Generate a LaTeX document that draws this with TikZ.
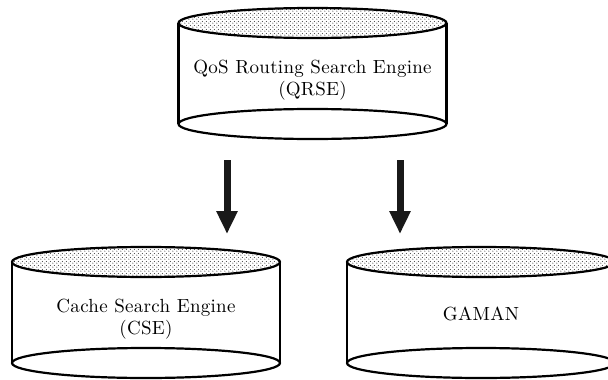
\documentclass[tikz,border=0pt]{standalone}
\usepackage{fontspec}
\newfontfamily\labelfont{lmroman10-regular.otf}[LetterSpace=1.5]
\usetikzlibrary{patterns,arrows.meta}
\pgfdeclarepatternformonly{finedots}{\pgfpointorigin}{\pgfpoint{4pt}{4pt}}{\pgfpoint{4pt}{4pt}}{%
  \pgfpathcircle{\pgfpoint{1pt}{1pt}}{0.65pt}
  \pgfpathcircle{\pgfpoint{3pt}{3pt}}{0.65pt}
  \pgfusepath{fill}}
\begin{document}
\begin{tikzpicture}[x=1pt,y=-1pt,
  cylline/.style={line width=2.2pt, draw=black},
  topface/.style={cylline, pattern=finedots, pattern color=black!80},
  label/.style={font=\labelfont\fontsize{19}{21.5}\selectfont, align=center, text=black},
  bigarrow/.style={line width=7pt, draw=black!90,
    -{Triangle[width=20pt,length=23pt]}}]
\useasboundingbox (0,0) rectangle (608,380);
\begin{scope}
\clip (0,0) rectangle (608,380);
% --- top cylinder (QRSE)
\draw[cylline] (178.5,23) -- (178.5,124);
\draw[cylline] (446.5,23) -- (446.5,124);
\draw[cylline] (312.5,124) ellipse [x radius=134,y radius=15];
\fill[white] (312.5,23) ellipse [x radius=134,y radius=15];
\draw[topface] (312.5,23) ellipse [x radius=134,y radius=15];
\node[label] (qrse) at (312.5,80) {QoS Routing Search Engine\\(QRSE)};
% --- bottom left cylinder (CSE)
\draw[cylline] (12,262) -- (12,363);
\draw[cylline] (280,262) -- (280,363);
\draw[cylline] (146,363) ellipse [x radius=134,y radius=15];
\fill[white] (146,262) ellipse [x radius=134,y radius=15];
\draw[topface] (146,262) ellipse [x radius=134,y radius=15];
\node[label] (cse) at (146,319) {Cache Search Engine\\(CSE)};
% --- bottom right cylinder (GAMAN)
\draw[cylline] (347,262) -- (347,363);
\draw[cylline] (615,262) -- (615,363);
\draw[cylline] (481,363) ellipse [x radius=134,y radius=15];
\fill[white] (481,262) ellipse [x radius=134,y radius=15];
\draw[topface] (481,262) ellipse [x radius=134,y radius=15];
\node[label] (gaman) at (481,314) {GAMAN};
\end{scope}
% --- arrows
\coordinate (a1s) at (227,160);
\coordinate (a1e) at (227,234);
\coordinate (a2s) at (400,160);
\coordinate (a2e) at (400,234);
\draw[bigarrow] (a1s) -- (a1e);
\draw[bigarrow] (a2s) -- (a2e);
\end{tikzpicture}
\end{document}
